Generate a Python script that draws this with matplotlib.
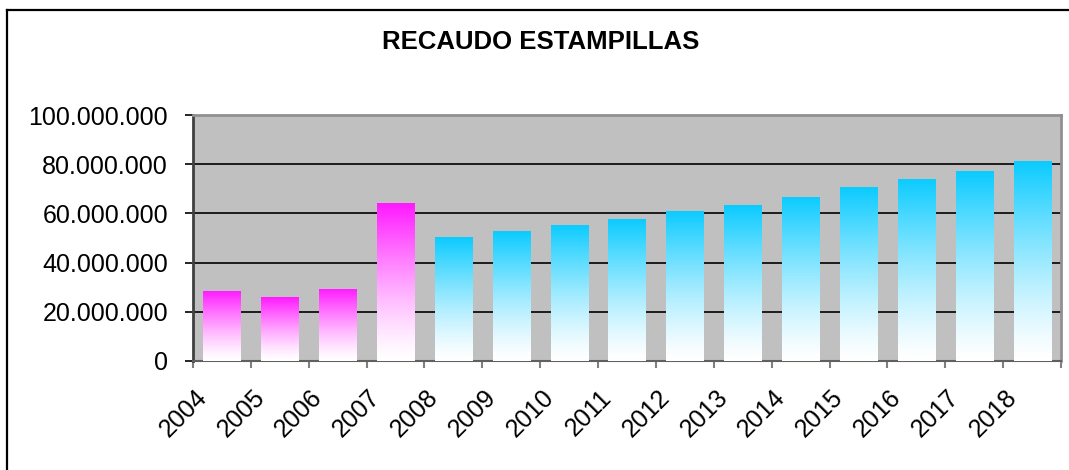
import numpy as np
import matplotlib.pyplot as plt
import matplotlib.transforms as mtransforms
from matplotlib.ticker import FuncFormatter, MultipleLocator
from matplotlib.colors import LinearSegmentedColormap
from matplotlib.lines import Line2D

years = ['2004', '2005', '2006', '2007', '2008', '2009', '2010', '2011',
         '2012', '2013', '2014', '2015', '2016', '2017', '2018']
recaudo = [28.5e6, 26.0e6, 29.3e6, 64.2e6, 50.4e6, 52.8e6, 55.3e6, 57.7e6,
           61.0e6, 63.4e6, 66.7e6, 70.7e6, 74.0e6, 77.2e6, 81.3e6]
tipo = ['m', 'm', 'm', 'm', 'c', 'c', 'c', 'c', 'c', 'c', 'c', 'c', 'c', 'c', 'c']

plt.rcParams['font.family'] = ['Liberation Sans', 'DejaVu Sans']

fig = plt.figure(figsize=(10.69, 4.70), dpi=100)
ax = fig.add_axes([193/1069, 1 - 361/470, (1061-193)/1069, (361-115)/470])
ax.set_facecolor('#C0C0C0')

cmaps = {
    'm': LinearSegmentedColormap.from_list('mag', ['#FFFFFF', '#FF19FF']),
    'c': LinearSegmentedColormap.from_list('cya', ['#FFFFFF', '#0BCBFF']),
}

x = np.arange(len(years))
bars = ax.bar(x, recaudo, width=0.64, color='none', edgecolor='none', zorder=3)
grad = np.linspace(0, 1, 256).reshape(-1, 1) ** 1.3
for b, t in zip(bars, tipo):
    x0, y0 = b.get_x(), b.get_y()
    im = ax.imshow(grad, cmap=cmaps[t], aspect='auto', origin='lower',
                   extent=[x0, x0 + b.get_width(), y0, y0 + b.get_height()],
                   zorder=3)
    im.set_clip_path(b)

ax.set_xlim(-0.5, len(years) - 0.5)
ax.set_ylim(0, 100e6)
ax.yaxis.set_major_locator(MultipleLocator(20e6))
ax.yaxis.set_major_formatter(FuncFormatter(lambda v, p: f'{int(v):,}'.replace(',', '.')))
ax.grid(axis='y', color='black', linewidth=1.2, zorder=1)
ax.set_axisbelow(True)

# ticks sit between categories, labels are rotated text under each bar
ax.set_xticks(np.append(x - 0.5, len(years) - 0.5))
ax.set_xticklabels([])
ax.tick_params(axis='x', length=5, width=1.5, color='#808080', direction='out')
ax.tick_params(axis='y', length=6, width=1.2, color='black', labelsize=18, pad=12)

shift = mtransforms.ScaledTranslation(-0.19, -0.33, fig.dpi_scale_trans)
for xi, yr in zip(x, years):
    ax.text(xi, 0, yr, transform=ax.get_xaxis_transform() + shift,
            rotation=45, ha='right', va='center', rotation_mode='anchor',
            fontsize=18)

for s in ['top', 'right']:
    ax.spines[s].set_color('#909090')
    ax.spines[s].set_linewidth(2)
ax.spines['left'].set_color('#404040')
ax.spines['left'].set_linewidth(2)
ax.spines['bottom'].set_color('#606060')
ax.spines['bottom'].set_linewidth(1.5)

fig.text(541/1069, 1 - 42/470, 'RECAUDO ESTAMPILLAS', ha='center', va='center',
         fontsize=18.5, fontweight='bold')

# outer chart frame (left and top edges visible)
fig.add_artist(Line2D([6.5/1069, 6.5/1069], [0, 1 - 9.5/470], color='black', linewidth=1.6))
fig.add_artist(Line2D([6.5/1069, 1], [1 - 9.5/470, 1 - 9.5/470], color='black', linewidth=1.6))

fig.savefig('out.png', dpi=100)
